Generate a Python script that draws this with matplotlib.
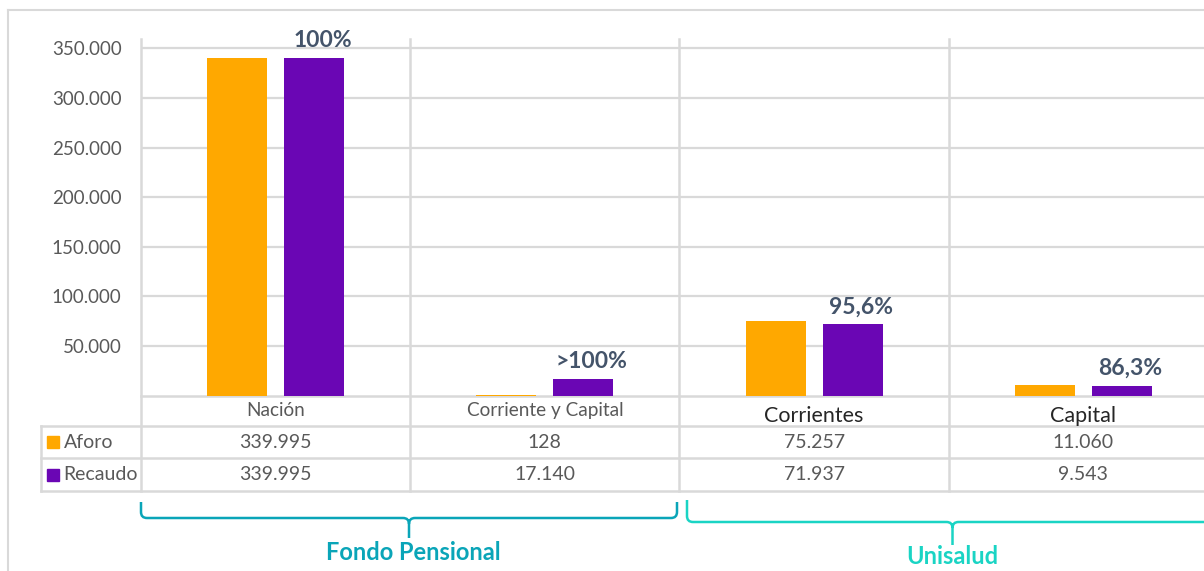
import matplotlib.pyplot as plt
from matplotlib.path import Path
from matplotlib.patches import PathPatch

# data
categories = ["Nación", "Corriente y Capital", "Corrientes", "Capital"]
aforo = [339995, 128, 75257, 11060]
recaudo = [339995, 17140, 71937, 9543]
pct_labels = ["100%", ">100%", "95,6%", "86,3%"]
series = ["Aforo", "Recaudo"]
groups = ["Fondo Pensional", "Unisalud"]
yticks = [50000, 100000, 150000, 200000, 250000, 300000, 350000]

plt.rcParams['font.family'] = ['Lato', 'DejaVu Sans']

C_AFORO = '#FFA800'
C_RECAUDO = '#6A06B4'
C_GRID = '#D9D9D9'
C_TEXT = '#595959'
C_PCT = '#44546A'
C_FP = '#0AA5B8'
C_UNI = '#1AD4C4'

W, H = 1204, 571
PX = 269.25          # pixels per category
X0 = 141             # left edge of plot area, px


def px2x(px):
    return (px - X0) / PX - 0.5


fig = plt.figure(figsize=(W / 100, H / 100), dpi=100)

# overlay for table, frame and braces (x in category units, y in pixels)
ov = fig.add_axes([0, 0, 1, 1])
ov.set_xlim(px2x(0), px2x(W))
ov.set_ylim(H, 0)
ov.axis('off')

# main bar axes
y_zero, y_top = 395.6, 38.5
ax = fig.add_axes([X0 / W, 1 - y_zero / H, 4 * PX / W, (y_zero - y_top) / H])
ax.set_facecolor('none')
ax.set_xlim(-0.5, 3.5)
ax.set_ylim(0, 360000)

x = list(range(len(categories)))
bw, off = 0.223, 0.143
ax.bar([i - off for i in x], aforo, bw, color=C_AFORO, zorder=3)
ax.bar([i + off for i in x], recaudo, bw, color=C_RECAUDO, zorder=3)

for i, lab in enumerate(pct_labels):
    ax.annotate(lab, (i + off, recaudo[i]), xytext=(6, 5), textcoords='offset points',
                ha='center', va='bottom', fontsize=16.5, fontweight='bold', color=C_PCT)

ax.set_yticks(yticks)
ax.set_yticklabels([f"{v:,.0f}".replace(",", ".") for v in yticks], fontsize=13.5, color=C_TEXT)
ax.tick_params(axis='y', length=0, pad=14)
ax.set_xticks([])
ax.grid(axis='y', color=C_GRID, linewidth=1.6, zorder=0)
for s in ax.spines.values():
    s.set_visible(False)

# outer frame
ov.plot([px2x(8), px2x(8)], [H, 10], color=C_GRID, lw=1.5)
ov.plot([px2x(8), px2x(W)], [10, 10], color=C_GRID, lw=1.5)

# table lines
left_px = 41
ov.plot([-0.5, 3.5], [395.6, 395.6], color=C_GRID, lw=1.8)
for yy in (426, 458, 491):
    ov.plot([px2x(left_px), 3.5], [yy, yy], color=C_GRID, lw=1.8)
ov.plot([px2x(left_px)] * 2, [426, 491], color=C_GRID, lw=1.8)
for b in [-0.5, 0.5, 1.5, 2.5, 3.5]:
    ov.plot([b, b], [y_top, 491], color=C_GRID, lw=1.8)

# header row
for i, cat in enumerate(categories):
    if i < 2:
        ov.text(i, 410.5, cat, ha='center', va='center', fontsize=13.7, color=C_TEXT)
    else:
        ov.text(i, 416, cat, ha='center', va='center', fontsize=15.5, color='#262626')

# data rows with legend keys
rows_y = [442, 474.5]
for vals, name, col, yy in zip([aforo, recaudo], series, [C_AFORO, C_RECAUDO], rows_y):
    ov.plot(px2x(52.5), yy, marker='s', ms=8, color=col, ls='none')
    ov.text(px2x(63.5), yy, name, ha='left', va='center', fontsize=14, color=C_TEXT)
    for i, v in enumerate(vals):
        ov.text(i, yy, f"{v:,.0f}".replace(",", "."), ha='center', va='center',
                fontsize=14, color=C_TEXT)


def brace(x0, x1, ytop, ybar, ytip, color):
    xc = (x0 + x1) / 2
    rx, ry = 6 / PX, 6
    verts = [(x0, ytop), (x0, ybar - ry), (x0, ybar), (x0 + rx, ybar),
             (xc - rx, ybar), (xc, ybar), (xc, ybar + ry), (xc, ytip),
             (xc, ybar + ry), (xc, ybar), (xc + rx, ybar),
             (x1 - rx, ybar), (x1, ybar), (x1, ybar - ry), (x1, ytop)]
    codes = [Path.MOVETO, Path.LINETO, Path.CURVE3, Path.CURVE3,
             Path.LINETO, Path.CURVE3, Path.CURVE3, Path.LINETO,
             Path.MOVETO, Path.CURVE3, Path.CURVE3,
             Path.LINETO, Path.CURVE3, Path.CURVE3, Path.LINETO]
    ov.add_patch(PathPatch(Path(verts, codes), fill=False, edgecolor=color, lw=1.8))
    return xc


xc = brace(-0.5, px2x(677), 502, 518, 538, C_FP)
ov.text(xc + 4 / PX, 553, groups[0], ha='center', va='center', fontsize=17, fontweight='bold', color=C_FP)
xc = brace(px2x(687), 3.5, 500, 522, 545, C_UNI)
ov.text(xc, 556, groups[1], ha='center', va='center', fontsize=17, fontweight='bold', color=C_UNI)

fig.savefig('out.png', dpi=100)
